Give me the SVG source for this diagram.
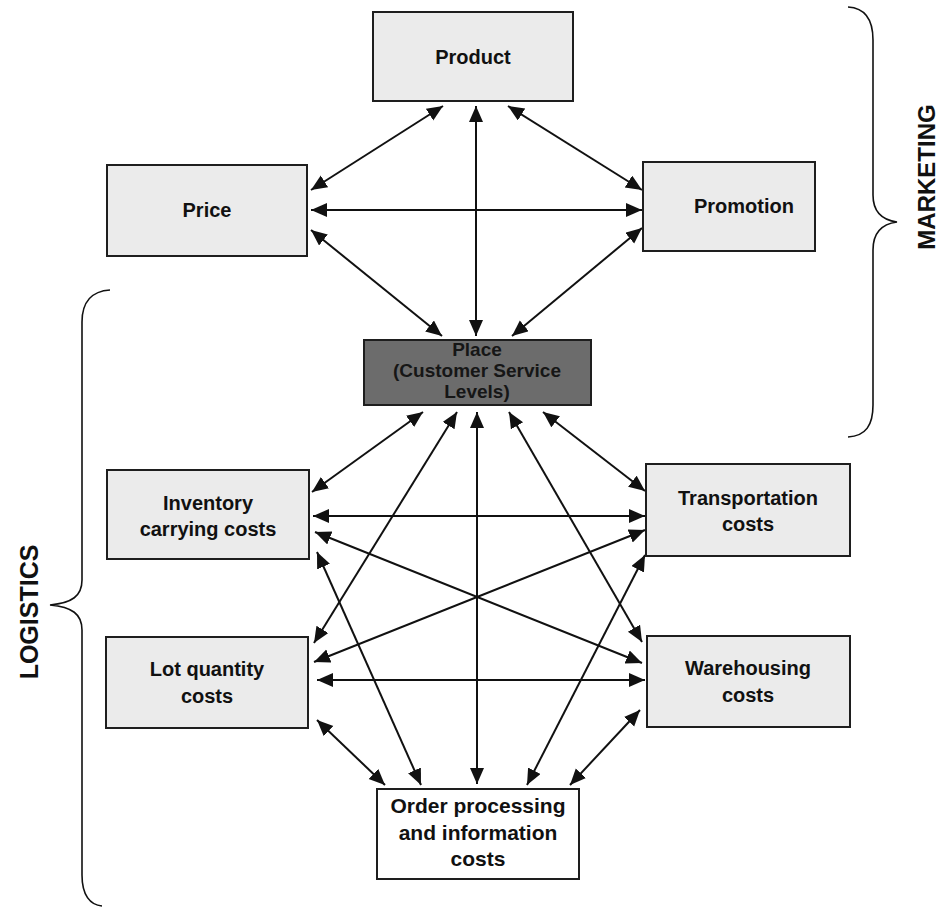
<svg xmlns="http://www.w3.org/2000/svg" width="942" height="910" viewBox="0 0 942 910">
  <style>
    .box { fill: #ebebeb; stroke: #1e1e1e; stroke-width: 2; }
    .box-plain { fill: #ffffff; stroke: #1e1e1e; stroke-width: 2; }
    .box-dark { fill: #6c6c6c; stroke: #1e1e1e; stroke-width: 2; }
    .lbl { font-family: "Liberation Sans", Arial, sans-serif; font-weight: bold; font-size: 20px; fill: #111; text-anchor: middle; }
    .lbl-dark { font-family: "Liberation Sans", Arial, sans-serif; font-weight: bold; font-size: 19px; fill: #161616; text-anchor: middle; }
    .side { font-family: "Liberation Sans", Arial, sans-serif; font-weight: bold; font-size: 25px; fill: #111; text-anchor: middle; }
    .conn line { stroke: #111; stroke-width: 2; marker-start: url(#head); marker-end: url(#head); }
    .brace { fill: none; stroke: #111; stroke-width: 1.6; }
  </style>
  <defs>
    <marker id="head" markerUnits="userSpaceOnUse" markerWidth="18" markerHeight="16" refX="16" refY="7" orient="auto-start-reverse">
      <path d="M0,0 L16,7 L0,14 Z" fill="#111"/>
    </marker>
  </defs>

  <rect width="942" height="910" fill="#ffffff"/>

  <!-- connectors -->
  <g id="connectors" class="conn">
    <!-- marketing mix -->
    <line x1="443" y1="106" x2="311" y2="190"/>
    <line x1="508" y1="106" x2="642" y2="190"/>
    <line x1="476" y1="106" x2="476" y2="336"/>
    <line x1="311" y1="210" x2="642" y2="210"/>
    <line x1="311" y1="230" x2="442" y2="336"/>
    <line x1="642" y1="228" x2="512" y2="336"/>
    <!-- place to logistics costs -->
    <line x1="423" y1="412" x2="312" y2="492"/>
    <line x1="457" y1="412" x2="314" y2="643"/>
    <line x1="477" y1="412" x2="477" y2="784"/>
    <line x1="509" y1="412" x2="642" y2="642"/>
    <line x1="543" y1="412" x2="645" y2="491"/>
    <!-- logistics costs among themselves -->
    <line x1="313" y1="516" x2="645" y2="516"/>
    <line x1="315" y1="532" x2="642" y2="663"/>
    <line x1="317" y1="552" x2="421" y2="785"/>
    <line x1="645" y1="530" x2="314" y2="662"/>
    <line x1="645" y1="555" x2="527" y2="785"/>
    <line x1="317" y1="680" x2="645" y2="680"/>
    <line x1="317" y1="720" x2="385" y2="785"/>
    <line x1="640" y1="710" x2="570" y2="785"/>
  </g>

  <!-- nodes -->
  <g id="product">
    <rect class="box" x="373" y="12" width="200" height="89"/>
    <text class="lbl" x="473" y="64">Product</text>
  </g>
  <g id="price">
    <rect class="box" x="107" y="165" width="200" height="91"/>
    <text class="lbl" x="207" y="217">Price</text>
  </g>
  <g id="promotion">
    <rect class="box" x="643" y="162" width="172" height="89"/>
    <text class="lbl" x="744" y="213">Promotion</text>
  </g>
  <g id="place">
    <rect class="box-dark" x="364" y="340" width="227" height="65"/>
    <text class="lbl-dark" x="477" y="356">Place</text>
    <text class="lbl-dark" x="477" y="377">(Customer Service</text>
    <text class="lbl-dark" x="477" y="398">Levels)</text>
  </g>
  <g id="inventory">
    <rect class="box" x="107" y="470" width="202" height="89"/>
    <text class="lbl" x="208" y="510">Inventory</text>
    <text class="lbl" x="208" y="536">carrying costs</text>
  </g>
  <g id="transportation">
    <rect class="box" x="646" y="464" width="204" height="92"/>
    <text class="lbl" x="748" y="505">Transportation</text>
    <text class="lbl" x="748" y="531">costs</text>
  </g>
  <g id="lot-quantity">
    <rect class="box" x="106" y="637" width="202" height="91"/>
    <text class="lbl" x="207" y="676">Lot quantity</text>
    <text class="lbl" x="207" y="703">costs</text>
  </g>
  <g id="warehousing">
    <rect class="box" x="647" y="636" width="203" height="91"/>
    <text class="lbl" x="748" y="675">Warehousing</text>
    <text class="lbl" x="748" y="702">costs</text>
  </g>
  <g id="order-processing">
    <rect class="box-plain" x="377" y="789" width="202" height="90"/>
    <text class="lbl" x="478" y="813" style="font-size:21px">Order processing</text>
    <text class="lbl" x="478" y="840" style="font-size:21px">and information</text>
    <text class="lbl" x="478" y="866" style="font-size:21px">costs</text>
  </g>

  <!-- group braces -->
  <g id="marketing">
    <path class="brace" d="M848,7 C866,8 873,20 873,40 L873,195 C873,212 882,220 897,222 C882,224 873,232 873,250 L873,405 C873,425 866,436 848,437"/>
    <text class="side" transform="translate(935,177) rotate(-90)" style="font-size:24px">MARKETING</text>
  </g>
  <g id="logistics">
    <path class="brace" d="M110,290 C92,291 82,302 82,322 L82,580 C82,596 72,603 50,605 C72,607 82,614 82,630 L82,875 C82,895 90,905 102,906"/>
    <text class="side" transform="translate(38,612) rotate(-90)">LOGISTICS</text>
  </g>
</svg>
